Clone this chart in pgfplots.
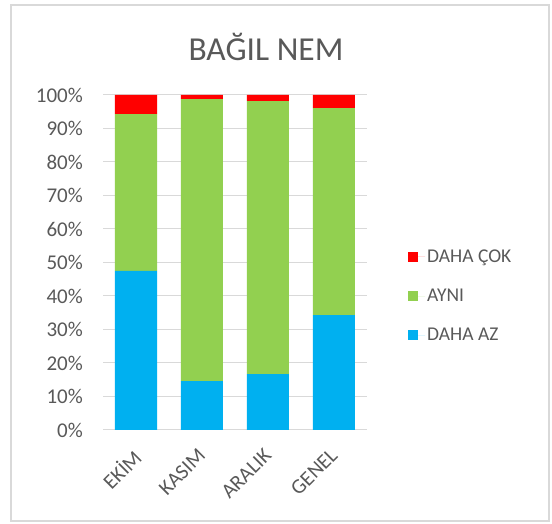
\documentclass[border=0pt]{standalone}
\usepackage{pgfplots}
\pgfplotsset{compat=1.18}
\usepackage{fontspec}
\setmainfont{Carlito}
\definecolor{txt}{HTML}{595959}
\definecolor{gridc}{HTML}{D9D9D9}
\definecolor{cred}{HTML}{FF0000}
\definecolor{cgreen}{HTML}{92D050}
\definecolor{cblue}{HTML}{00B0F0}
\begin{document}
\begin{tikzpicture}[x=1pt,y=1pt]
\path (0,0) rectangle (552,524);
\draw[gridc,line width=1.2pt] (11,3) rectangle (549,519);
\node[txt,font=\fontsize{33.5}{38}\selectfont] at (266,477) {BAĞIL NEM};
\begin{axis}[
  at={(103pt,94pt)}, anchor=south west,
  scale only axis, width=264pt, height=335pt,
  ybar stacked, bar width=42pt,
  xmin=-0.5, xmax=3.5, ymin=0, ymax=100,
  xtick={0,1,2,3}, xticklabels={EKİM,KASIM,ARALIK,GENEL},
  ytick={0,10,...,100},
  yticklabel={\pgfmathprintnumber{\tick}\%},
  /pgf/number format/assume math mode=true,
  major tick length=0pt,
  axis line style={draw=none},
  ymajorgrids, grid style={gridc,line width=1pt},
  tick label style={txt,font=\fontsize{21}{25}\selectfont},
  yticklabel style={inner sep=0pt,xshift=-20pt},
  xticklabel style={inner sep=0pt,xshift=-5pt,yshift=-17pt,rotate=45,anchor=north east},
  legend style={at={(302pt,134pt)}, anchor=west, draw=none, fill=none,
    font=\fontsize{19.5}{23}\selectfont, text=txt, row sep=21pt,
    legend cell align=left},
  legend image code/.code={\fill[#1,draw=none] (0pt,-5pt) rectangle (10pt,5pt); \path (0pt,0pt) -- (17pt,0pt);},
  reverse legend,
]
\addplot[fill=cblue,draw=none] coordinates {(0,47.5) (1,14.6) (2,16.7) (3,34.3)};
\addplot[fill=cgreen,draw=none] coordinates {(0,46.8) (1,84.2) (2,81.5) (3,61.8)};
\addplot[fill=cred,draw=none] coordinates {(0,5.7) (1,1.2) (2,1.8) (3,3.9)};
\legend{DAHA AZ,AYNI,DAHA ÇOK}
\end{axis}
\end{tikzpicture}
\end{document}
